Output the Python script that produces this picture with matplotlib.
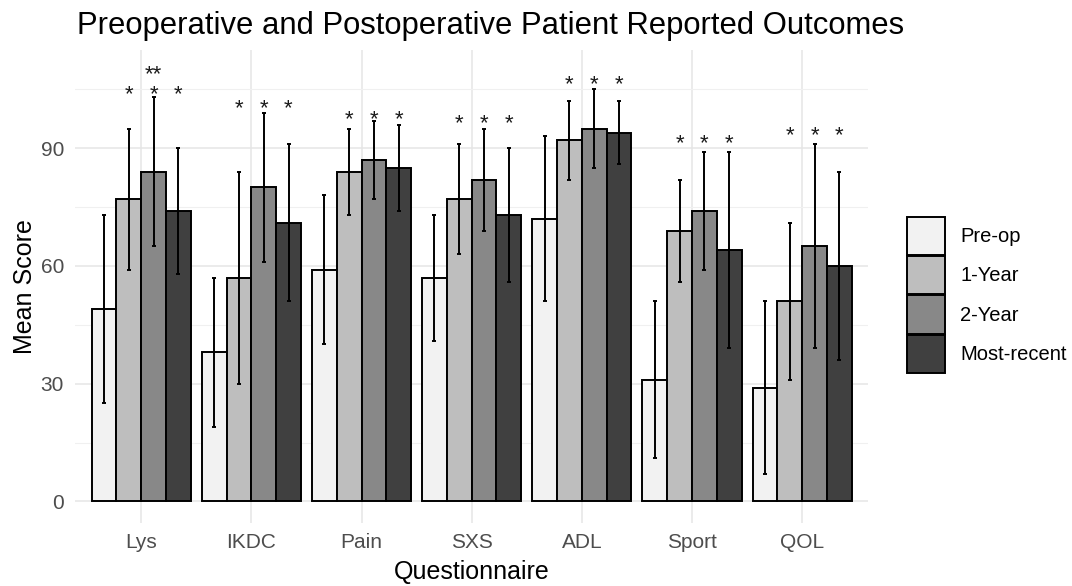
import numpy as np
import matplotlib
matplotlib.use("Agg")
import matplotlib.pyplot as plt

plt.rcParams['font.family'] = ['Liberation Sans', 'DejaVu Sans']

# datos
cuestionarios = ["Lys", "IKDC", "Pain", "SXS", "ADL", "Sport", "QOL"]
grupos = ["Pre-op", "1-Year", "2-Year", "Most-recent"]
colores = ["#F2F2F2", "#BEBEBE", "#888888", "#404040"]

pre_op = [49, 38, 59, 57, 72, 31, 29]
un_anio = [77, 57, 84, 77, 92, 69, 51]
dos_anios = [84, 80, 87, 82, 95, 74, 65]
reciente = [74, 71, 85, 73, 94, 64, 60]

sd_pre_op = [24, 19, 19, 16, 21, 20, 22]
sd_un_anio = [18, 27, 11, 14, 10, 13, 20]
sd_dos_anios = [19, 19, 10, 13, 10, 15, 26]
sd_reciente = [16, 20, 11, 17, 8, 25, 24]

# altura (centro) de los asteriscos por cuestionario
altura_estrella = [105.5, 102, 99, 98, 108, 93, 95]
altura_doble = 110.5  # "**" extra sobre 2-Year en Lys

medias = [pre_op, un_anio, dos_anios, reciente]
desvios = [sd_pre_op, sd_un_anio, sd_dos_anios, sd_reciente]

fig = plt.figure(figsize=(10.72, 5.86), dpi=100)
ax = fig.add_axes([0.070, 0.1075, 0.740, 0.807])

x = np.arange(1, len(cuestionarios) + 1)
ancho = 0.9 / 4
fs_estrella = 16

def estrella(xp, yp, texto):
    # el asterisco queda alto en la fuente, se baja desde la linea base
    ax.annotate(texto, (xp, yp), xytext=(0, -0.57 * fs_estrella), textcoords="offset points",
                ha="center", va="baseline", fontsize=fs_estrella, color="#1A1A1A", zorder=4)

for i, grupo in enumerate(grupos):
    pos = x - 0.45 + ancho * (i + 0.5)
    ax.bar(pos, medias[i], width=ancho, color=colores[i], edgecolor="black",
           linewidth=1.4, label=grupo, zorder=2)
    ax.errorbar(pos, medias[i], yerr=desvios[i], fmt="none", ecolor="black",
                elinewidth=1.4, capsize=1.7, capthick=1.4, zorder=3)
    if i > 0:
        for j in range(len(x)):
            estrella(pos[j], altura_estrella[j], "*")

# doble asterisco en Lys 2-Year
estrella(x[0] - 0.45 + ancho * 2.5, altura_doble, "**")

ax.set_xlim(0.4, 7.6)
ax.set_ylim(-5.5, 115)
ax.set_xticks(x)
ax.set_xticklabels(cuestionarios)
ax.set_yticks([0, 30, 60, 90])
ax.set_yticks([15, 45, 75, 105], minor=True)
ax.grid(True, which="major", color="#E5E5E5", linewidth=1.1, zorder=0)
ax.grid(True, which="minor", axis="y", color="#F0F0F0", linewidth=0.8, zorder=0)
ax.set_axisbelow(True)
for s in ax.spines.values():
    s.set_visible(False)
ax.tick_params(axis="both", which="both", length=0, labelsize=15, labelcolor="#4D4D4D")
ax.tick_params(axis="x", pad=7.5)
ax.tick_params(axis="y", pad=8)

ax.set_xlabel("Questionnaire", fontsize=18, labelpad=5.5)
ax.set_ylabel("Mean Score", fontsize=18, labelpad=2.5)
fig.text(0.072, 0.942, "Preoperative and Postoperative Patient Reported Outcomes",
         fontsize=22.3, ha="left", va="baseline")

leg = ax.legend(loc="center left", bbox_to_anchor=(0.846, 0.497),
                bbox_transform=fig.transFigure, frameon=False, fontsize=14.5,
                handlelength=1.9, handleheight=2.55, labelspacing=0.05,
                handletextpad=0.75, borderaxespad=0, borderpad=0)
for h in leg.legend_handles:
    h.set_linewidth(1.4)

fig.savefig("out.png", dpi=100)
